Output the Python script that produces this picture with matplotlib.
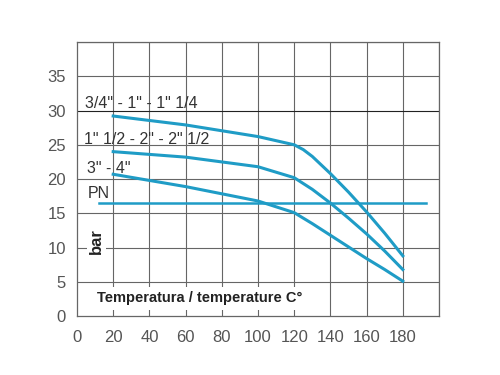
import matplotlib.pyplot as plt

plt.rcParams['font.family'] = ['Liberation Sans', 'DejaVu Sans']

# temperatura (C°) e pressione (bar)
temp_a = [20, 60, 100, 120, 125, 130, 140, 150, 160, 170, 180]
bar_a = [29.2, 27.9, 26.2, 25.0, 24.3, 23.3, 20.8, 18.1, 15.2, 12.1, 8.8]
temp_b = [20, 60, 100, 120, 130, 140, 150, 160, 170, 180]
bar_b = [24.0, 23.2, 21.8, 20.2, 18.5, 16.5, 14.3, 12.0, 9.5, 6.8]
temp_c = [20, 60, 100, 120, 130, 140, 150, 160, 170, 180]
bar_c = [20.7, 18.9, 16.8, 15.1, 13.5, 11.8, 10.1, 8.4, 6.8, 5.1]
pn_temp = [12, 193]
pn_bar = [16.5, 16.5]

labels = ['3/4" - 1" - 1" 1/4', '1" 1/2 - 2" - 2" 1/2', '3" - 4"', 'PN']
x_ticks = [0, 20, 40, 60, 80, 100, 120, 140, 160, 180]
y_ticks = [0, 5, 10, 15, 20, 25, 30, 35]

blu = '#1f9cc6'
grigio = '#666666'

fig = plt.figure(figsize=(5, 3.75), dpi=100)
ax = fig.add_axes([0.154, 0.157, 0.724, 0.731])
ax.set_xlim(0, 200)
ax.set_ylim(0, 40)

# griglia
for x in range(20, 201, 20):
    ax.axvline(x, color=grigio, lw=0.8, zorder=1)
for y in range(5, 41, 5):
    ax.axhline(y, color='#222222' if y == 30 else grigio, lw=0.8, zorder=1)
for s in ax.spines.values():
    s.set_color(grigio)
    s.set_linewidth(0.9)

ax.plot(temp_a, bar_a, color=blu, lw=2.2, zorder=3)
ax.plot(temp_b, bar_b, color=blu, lw=2.2, zorder=3)
ax.plot(temp_c, bar_c, color=blu, lw=2.2, zorder=3)
ax.plot(pn_temp, pn_bar, color=blu, lw=1.8, zorder=3)

ax.set_xticks(x_ticks)
ax.set_yticks(y_ticks)
ax.tick_params(length=0, labelsize=12, labelcolor='#555555')
ax.tick_params(axis='x', pad=10)
ax.tick_params(axis='y', pad=8)

fs = 11.5
ax.text(4.5, 31.0, labels[0], fontsize=fs, color='#333333', va='center', zorder=4)
ax.text(4, 25.8, labels[1], fontsize=fs, color='#333333', va='center', zorder=4)
ax.text(5.5, 21.6, labels[2], fontsize=fs, color='#333333', va='center', zorder=4)
ax.text(6, 17.9, labels[3], fontsize=fs, color='#333333', va='center', zorder=4)

ax.text(11, 10.9, 'bar', fontsize=12, fontweight='bold', rotation=90,
        ha='center', va='center', color='#222222', zorder=4,
        bbox=dict(facecolor='white', edgecolor='none', pad=1.5))
ax.text(11, 2.6, 'Temperatura / temperature C°', fontsize=10.5, fontweight='bold',
        va='center', color='#222222', zorder=4,
        bbox=dict(facecolor='white', edgecolor='none', pad=3))

fig.savefig('out.png', dpi=100)
